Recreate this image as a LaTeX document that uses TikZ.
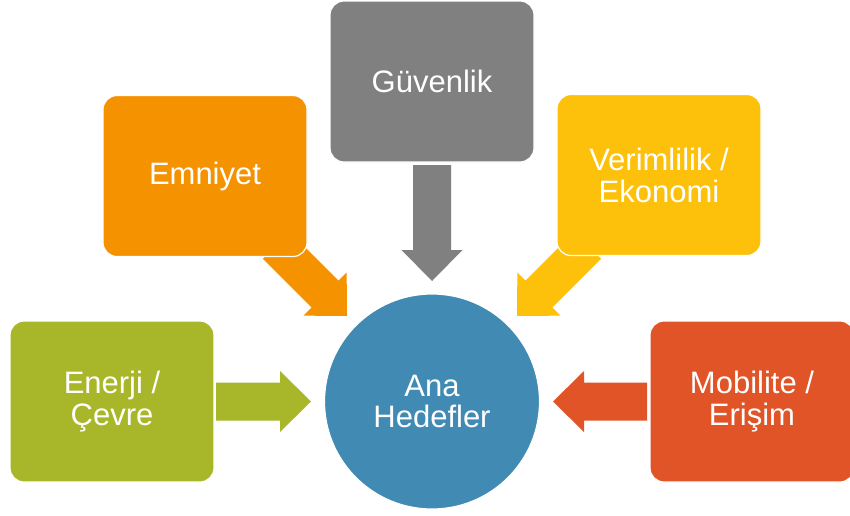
\documentclass[tikz,border=0pt]{standalone}
\usepackage{fontspec}
\setmainfont{Liberation Sans}
\usetikzlibrary{calc,backgrounds}

\definecolor{cGray}{RGB}{128,128,128}
\definecolor{cOrange}{RGB}{245,146,0}
\definecolor{cYellow}{RGB}{253,193,12}
\definecolor{cGreen}{RGB}{168,183,41}
\definecolor{cRed}{RGB}{224,84,39}
\definecolor{cBlue}{RGB}{65,138,179}

\tikzset{
  goalbox/.style={rectangle, rounded corners=14pt, draw=white, line width=1.2pt,
    minimum width=204pt, minimum height=161pt, inner sep=0pt,
    text=white, align=center, font=\fontsize{31}{32}\selectfont},
  hubnode/.style={circle, draw=white, line width=1.2pt, fill=cBlue,
    minimum size=215pt, inner sep=0pt,
    text=white, align=center, font=\fontsize{31}{31}\selectfont},
  % block arrow pointing along +x, tip at the pic origin; #1 = total length
  pics/blockarrow/.style={code={
    \fill (0,0) -- (-31,30.5) -- (-31,19) -- (-#1,19) -- (-#1,-19)
      -- (-31,-19) -- (-31,-30.5) -- cycle;
  }}
}

\begin{document}
\begin{tikzpicture}[x=1pt,y=-1pt]
\useasboundingbox (0,0) rectangle (850,515);

% central goal
\node[hubnode] (hub) at (432,401.5) {Ana\\Hedefler};

% surrounding goals
\node[goalbox, fill=cGray]   (guv) at (432,81.5)  {Güvenlik};
\node[goalbox, fill=cOrange] (emn) at (205,176)   {Emniyet};
\node[goalbox, fill=cYellow] (ver) at (659,175)   {Verimlilik /\\Ekonomi};
\node[goalbox, fill=cGreen]  (ene) at (112,401.5) {Enerji /\\Çevre};
\node[goalbox, fill=cRed]    (mob) at (752,401.5) {Mobilite /\\Erişim};

% arrow tips, just outside the central circle
\coordinate (tGuv) at ($(hub.center)+(0,-120.5)$);
\coordinate (tEmn) at ($(hub.center)+(-85,-85.5)$);
\coordinate (tVer) at ($(hub.center)+(85,-85.5)$);
\coordinate (tEne) at ($(hub.center)+(-121,0)$);
\coordinate (tMob) at ($(hub.center)+(121,0)$);

% block arrows from each goal towards the centre, behind the boxes
\begin{scope}[on background layer]
  \pic[fill=cGray, rotate=-90]   at (tGuv) {blockarrow=116};
  \pic[fill=cOrange, rotate=-45] at (tEmn) {blockarrow=100};
  \pic[fill=cYellow, rotate=-135] at (tVer) {blockarrow=100};
  \pic[fill=cGreen, rotate=0]    at (tEne) {blockarrow=95};
  \pic[fill=cRed, rotate=180]    at (tMob) {blockarrow=94};
\end{scope}
\end{tikzpicture}
\end{document}
